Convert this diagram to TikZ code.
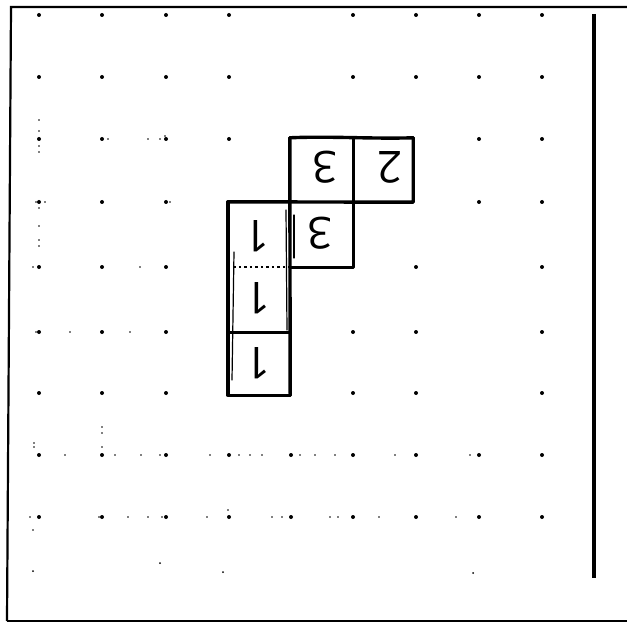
\documentclass[tikz,border=0pt]{standalone}
\usepackage{fontspec}
\newfontfamily\handfont{Open Sans}
\begin{document}
\begin{tikzpicture}[x=1pt,y=-1pt,
  cellbox/.style={draw=none,inner sep=0pt},
  digit/.style={font=\handfont\fontsize{44}{44}\selectfont,rotate=180,inner sep=0pt},
  edge/.style={line width=3.4pt,line cap=round,line join=round},
  thinedge/.style={line width=1.2pt,line cap=round},
  dotline/.style={line width=2pt,dash pattern=on 2.5pt off 3pt},
  framel/.style={line width=2.2pt},
  griddot/.style={fill=black},
]
\useasboundingbox (0,0) rectangle (627,623);
% frame
\coordinate (ftl) at (11,7);
\coordinate (ftr) at (627,7);
\coordinate (fbl) at (7,621);
\coordinate (fbr) at (627,621);
\coordinate (rt) at (594,14);
\coordinate (rb) at (594,578);
\draw[framel] (ftr) -- (ftl) -- (fbl);
\draw[line width=1.4pt] (fbl) -- (fbr);
\draw[line width=4.5pt] (rt) -- (rb);
% grid dots
\foreach \y/\xs in {15/{39,102,166,229,353,416,479,542},
                    77/{39,102,166,229,353,416,479,542},
                    139/{39,102,166,229,479,542},
                    202/{39,102,166,479,542},
                    267/{39,102,166,416,542},
                    332/{39,102,166,353,416,542},
                    393/{39,102,166,353,416,542},
                    455/{39,102,166,229,291,353,416,479,542},
                    517/{39,102,166,229,291,353,416,479,542}}{
  \foreach \x in \xs { \fill[griddot] (\x,\y) circle (2pt); }
}
\foreach \x/\y in {33/571,160/563,223/572,473/573}{ \fill (\x,\y) circle (1pt); }
% small specks
\foreach \x/\y in {39/120,39/131,39/146,39/152,108/139,148/139,160/139,165/136,
                   36/202,45/202,39/208,39/226,39/240,39/246,170/202,
                   33/267,102/267,140/267,166/267,
                   36/332,70/332,130/332,
                   65/455,115/455,141/455,160/455,210/455,239/455,250/455,262/455,300/455,315/455,335/455,395/455,470/455,
                   102/427,102/433,102/447,34/443,34/447,
                   30/517,99/517,128/517,148/517,162/517,207/517,272/517,282/517,330/517,338/517,379/517,456/517,33/530,228/510}{
  \fill (\x,\y) circle (0.9pt);
}
% cells
\node[cellbox,minimum width=63pt,minimum height=64pt] (t1) at (321.5,170) {};
\node[cellbox,minimum width=60pt,minimum height=64pt] (t2) at (383,170) {};
\node[cellbox,minimum width=63pt,minimum height=65pt] (m)  at (321.5,234.5) {};
\node[cellbox,minimum width=62pt,minimum height=65pt] (l1) at (259,234.5) {};
\node[cellbox,minimum width=62pt,minimum height=65pt] (l2) at (259,299.5) {};
\node[cellbox,minimum width=62pt,minimum height=63pt] (l3) at (259,363.5) {};
% cell edges
\draw[edge] (t1.north west) .. controls (330,136) and (370,139) .. (t2.north east);
\draw[edge] (t2.north east) -- (t2.south east) -- (l1.north west);
\draw[edge] (t1.north west) -- (l3.south east);
\draw[edge] (t1.north east) -- (m.south east) -- (m.south west);
\draw[edge] (l1.north west) -- (l3.south west) -- (l3.south east);
\draw[edge] (l2.south west) -- (l2.south east);
\draw[dotline] (l1.south west) -- (l1.south east);
\draw[thinedge] (234,252) -- (232,380);
\draw[thinedge] (286,210) -- (287,330);
\draw[thinedge] (294,215) -- (294,258);
% digits
\node[digit] (d1) at (325,167) {3};
\node[digit] (d2) at (390,167) {2};
\node[digit] (d3) at (320,233) {3};
\node[digit] (d4) at (257,236) {1};
\node[digit] (d5) at (258,298) {1};
\node[digit] (d6) at (258,363) {1};
\end{tikzpicture}
\end{document}
